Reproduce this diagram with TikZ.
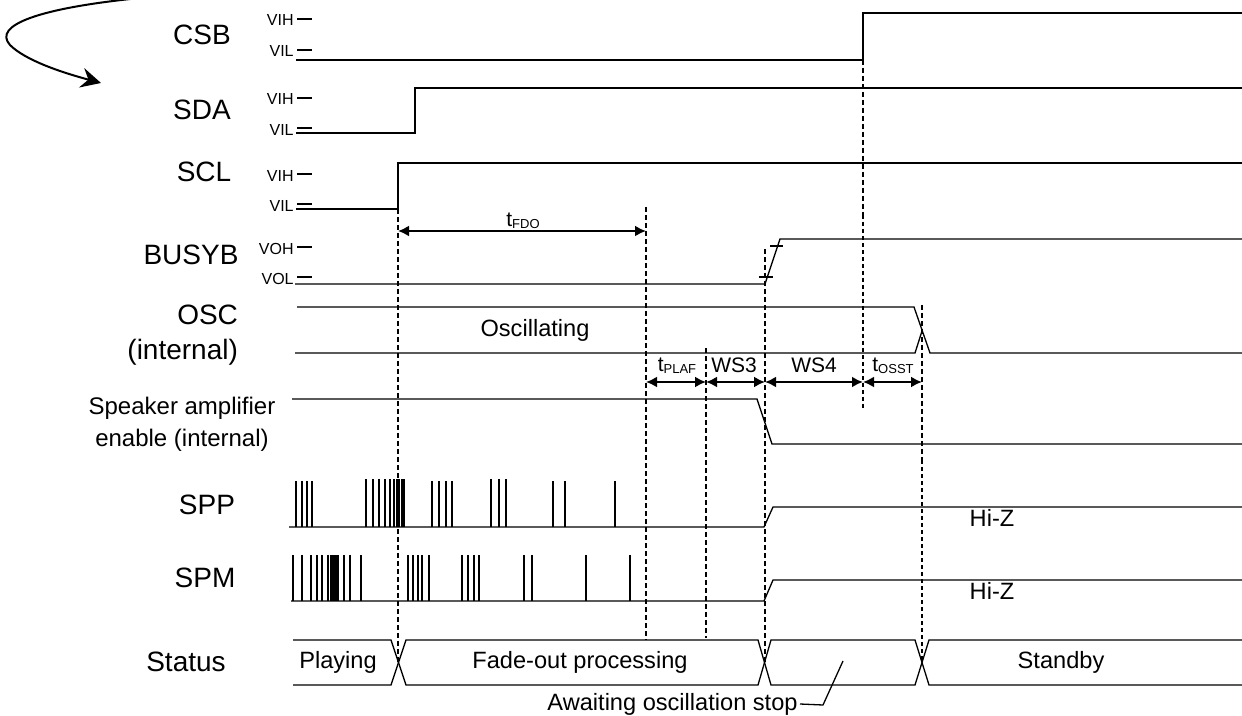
\documentclass[tikz,border=0pt]{standalone}
\usepackage{fontspec}
\setmainfont{Liberation Sans}
\usetikzlibrary{arrows.meta}

\newcommand{\tsub}[1]{t{\fontsize{6.5}{7}\selectfont\raisebox{-1.2pt}{#1}}}

\begin{document}
\begin{tikzpicture}[x=0.5pt,y=-0.5pt,>={Latex[length=5.5pt,width=5.5pt]},
	sig/.style={line width=0.65pt},
	lbl/.style={font=\fontsize{14}{17.5}\selectfont},
	txt/.style={font=\fontsize{11.8}{13}\selectfont, inner sep=1pt},
	wsf/.style={font=\fontsize{10.5}{12}\selectfont, inner sep=1pt},
	lvl/.style={font=\fontsize{8}{9}\selectfont, anchor=east, inner sep=0pt},
	guide/.style={line width=1pt, dash pattern=on 2.5pt off 1.5pt},
	fineguide/.style={line width=0.6pt, dash pattern=on 2pt off 1.5pt},
	dim/.style={line width=1pt, <->}]
	\path [use as bounding box, fill=white] (0,0) rectangle (1242,716);
	\draw [line width=1pt, -{Stealth[length=10pt,width=10pt,inset=3.5pt]}] (140,-2) .. controls (40,8) and (-8,25) .. (10,45) .. controls (25,60) and (60,72) .. (101,83);
	\node [lbl] (csb) at (202,35) {CSB};
	\node [lbl] (sda) at (202,110) {SDA};
	\node [lbl] (scl) at (204,172) {SCL};
	\node [lbl] (busyb) at (191,255) {BUSYB};
	\node [lbl, align=right, anchor=east] (osc) at (245,335) {OSC\\(internal)};
	\node [font=\fontsize{12}{16}\selectfont, align=center] (spk) at (182,424) {Speaker amplifier\\enable (internal)};
	\node [lbl] (spp) at (207,505) {SPP};
	\node [lbl] (spm) at (205,578) {SPM};
	\node [lbl] (status) at (186,662) {Status};
	\foreach \y/\t [count=\i] in {19/VIH,50/VIL,98/VIH,128/VIL,174/VIH,204/VIL,247/VOH,277/VOL}
		{\draw [sig] (297,\y) -- (312,\y); \node [lvl] (lv\i) at (294,\y+1.5) {\t};}
	\draw [sig] (296,60) -- (863,60) -- (863,13) -- (1242,13);
	\draw [sig] (296,133) -- (415,133) -- (415,88) -- (1242,88);
	\draw [sig] (296,209) -- (398,209) -- (398,163) -- (1242,163);
	\draw [sig] (295,284) -- (765,284) -- (780,239) -- (1242,239);
	\draw [sig] (759,277) -- (773,277) (770,246) -- (783,246);
	\draw [sig] (297,307) -- (914,307) -- (930,353) -- (1242,353);
	\draw [sig] (295,353) -- (915,353) -- (922,331);
	\node [txt] (oscing) at (535,330) {Oscillating};
	\draw [sig] (292,399) -- (757,399) -- (772,444) -- (1242,444);
	\draw [sig] (289,527) -- (764,527) -- (773,507) -- (1242,507);
	\foreach \x in {296,302,307,312,432,439,446,452,553,565,615} \draw [sig] (\x,527) -- (\x,481);
	\foreach \x in {366,373,379,385,390,394,397,399,402,404,491,499,506} \draw [sig] (\x,527) -- (\x,479);
	\node [txt] (hizp) at (992,518) {Hi-Z};
	\draw [sig] (291,601) -- (764,601) -- (773,580) -- (1242,580);
	\foreach \x in {293,302,311,317,322,328,344,350,361,408,413,418,422,429,462,468,474,479,524,532,586,630} \draw [sig] (\x,601) -- (\x,555);
	\fill (330,555) rectangle (339,601);
	\node [txt] (hizm) at (992,591) {Hi-Z};
	\draw [sig] (293,640) -- (391,640) -- (406,685) -- (758,685) -- (771,640) -- (915,640) -- (929,685) -- (1242,685);
	\draw [sig] (293,685) -- (391,685) -- (406,640) -- (758,640) -- (771,685) -- (915,685) -- (929,640) -- (1242,640);
	\node [txt] (playing) at (338,662) {Playing};
	\node [txt] (fade) at (580,662) {Fade-out processing};
	\node [txt] (standby) at (1061,662) {Standby};
	\node [txt, anchor=east] (await) at (800,704) {Awaiting oscillation stop};
	\coordinate (awtip) at (843,661);
	\draw [sig] (await.east) -- (823,705) -- (awtip);
	\draw [guide] (398,209) -- (398,662);
	\draw [guide] (646,207) -- (646,640);
	\draw [guide] (706,348) -- (706,638);
	\draw [guide] (765,249) -- (765,662);
	\draw [guide] (863,60) -- (863,215);
	\draw [fineguide] (863,215) -- (863,408);
	\draw [guide] (922,305) -- (922,460);
	\draw [fineguide] (922,460) -- (922,662);
	\draw [dim] (398,231) -- (646,231);
	\node [wsf] (tfdo) at (523,221) {\tsub{FDO}};
	\draw [dim] (646,382) -- (706,382);
	\draw [dim] (706,382) -- (765,382);
	\draw [dim, line width=1.4pt] (765,382) -- (863,382);
	\draw [dim] (863,382) -- (922,382);
	\node [wsf] (tplaf) at (677,366) {\tsub{PLAF}};
	\node [wsf] (ws3) at (734,365) {WS3};
	\node [wsf] (ws4) at (814,365) {WS4};
	\node [wsf] (tosst) at (893,366) {\tsub{OSST}};
\end{tikzpicture}
\end{document}
